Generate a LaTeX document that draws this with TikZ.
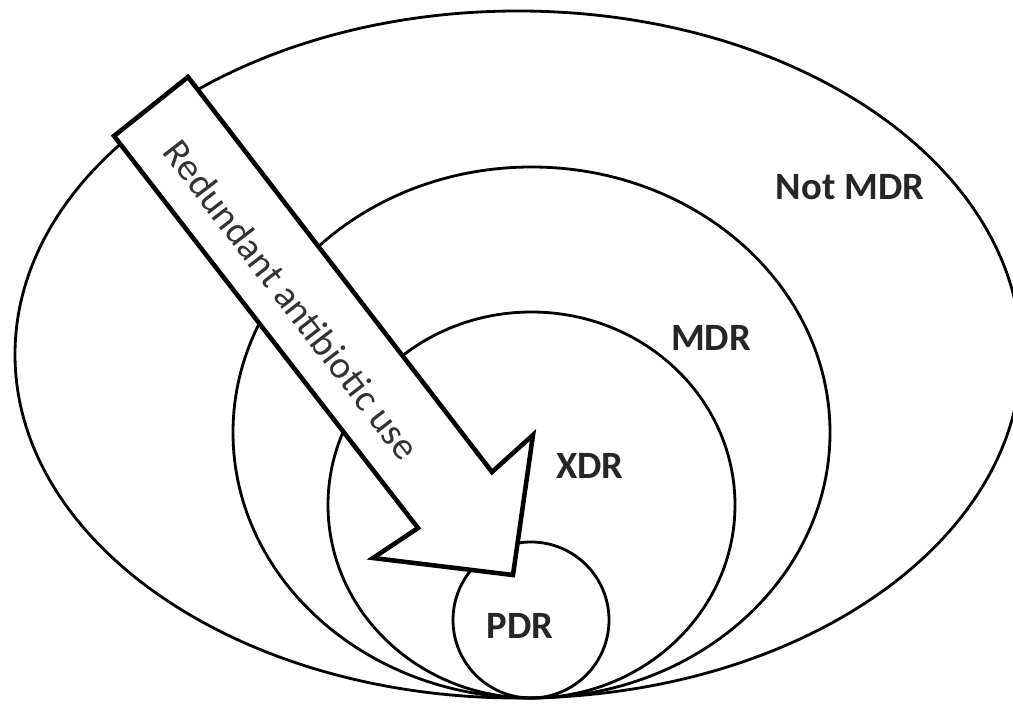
\documentclass[tikz,border=0pt]{standalone}
\usepackage{fontspec}
\setmainfont{Carlito}
\usetikzlibrary{positioning}
\tikzset{ring/.style={draw,line width=1.6pt},
         zone/.style={font=\fontsize{22}{24}\selectfont\bfseries, text=black!85},
         bigarrow/.style={draw,fill=white,line width=2.6pt,line join=miter},
        }

\begin{document}
\begin{tikzpicture}[x=0.2mm,y=-0.2mm]
        \useasboundingbox (0,0) rectangle (1013,710);

        \draw[ring](518,354.5) ellipse [x radius=503, y radius=343.5];
        \draw[ring](531.5,432.5) ellipse [x radius=298.5, y radius=265.5];
        \draw[ring](531.5,505) ellipse [x radius=203.5, y radius=193];
        \draw[ring](531,620) circle [radius=78];

        \coordinate(tailtop)at(188,77);
        \coordinate(tailleft)at(114,136);
        \coordinate(notchr)at(492,472);
        \coordinate(barbr)at(533,435);
        \coordinate(tip)at(513,575);
        \coordinate(barbl)at(373,558);
        \coordinate(notchl)at(418,528);
        \draw[bigarrow](tailtop)--(notchr)--(barbr)--(tip)--(barbl)--(notchl)--(tailleft)--cycle;

        \node[rotate=-52.4, font=\fontsize{22}{24}\selectfont, text=black!80](use)at(292,300){Redundant antibiotic use};

        \node[zone](notmdr)at(850,187){Not MDR};
        \node[zone](mdr)at(711,338){MDR};
        \node[zone](xdr)at(590,466){XDR};
        \node[zone](pdr)at(520,626){PDR};
    \end{tikzpicture}
\end{document}
